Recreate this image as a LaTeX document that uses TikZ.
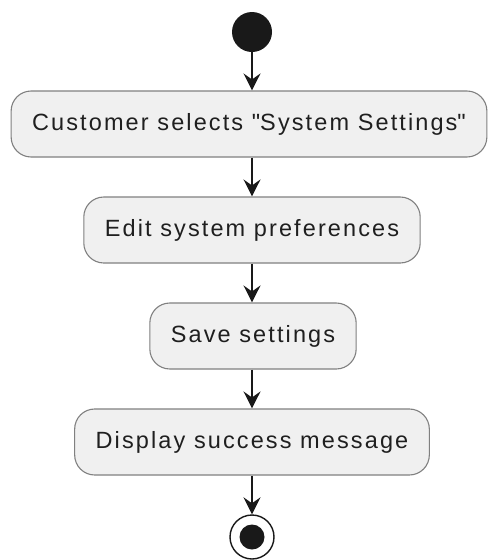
\documentclass[tikz,border=0pt]{standalone}
\usepackage{fontspec}
\setmainfont{Liberation Sans}[LetterSpace=9]
\usetikzlibrary{arrows.meta}
\begin{document}
\begin{tikzpicture}[x=1pt,y=-1pt,
  act/.style={draw=black!50,line width=1.1pt,fill=black!6,rounded corners=20pt,
    minimum height=66pt,inner xsep=21pt,text=black!88,
    font=\fontsize{23.5}{28}\selectfont},
  flow/.style={-{Stealth[length=17pt,width=17pt,inset=6pt]},line width=1.4pt,black!90}]
\useasboundingbox (0,0) rectangle (492,560);
\node[circle,fill=black!90,minimum size=40pt,inner sep=0pt] (start) at (252,32) {};
\node[act] (select) at (249,124) {Customer selects \textquotedbl System Settings\textquotedbl};
\node[act] (edit) at (252,230) {Edit system preferences};
\node[act] (save) at (253,336) {Save settings};
\node[act] (show) at (252,442) {Display success message};
\node[circle,draw=black!90,line width=1.4pt,fill=white,minimum size=44pt,inner sep=0pt] (stop) at (252,537) {};
\fill[black!90] (stop) circle (12.5pt);
% arrows between the steps
\draw[flow] (start.south) -- (start.south |- select.north);
\draw[flow] (select.south -| edit) -- (edit.north);
\draw[flow] (edit.south) -- (edit.south |- save.north);
\draw[flow] (save.south -| show) -- (show.north);
\draw[flow] (show.south) -- (stop.north);
\end{tikzpicture}
\end{document}
